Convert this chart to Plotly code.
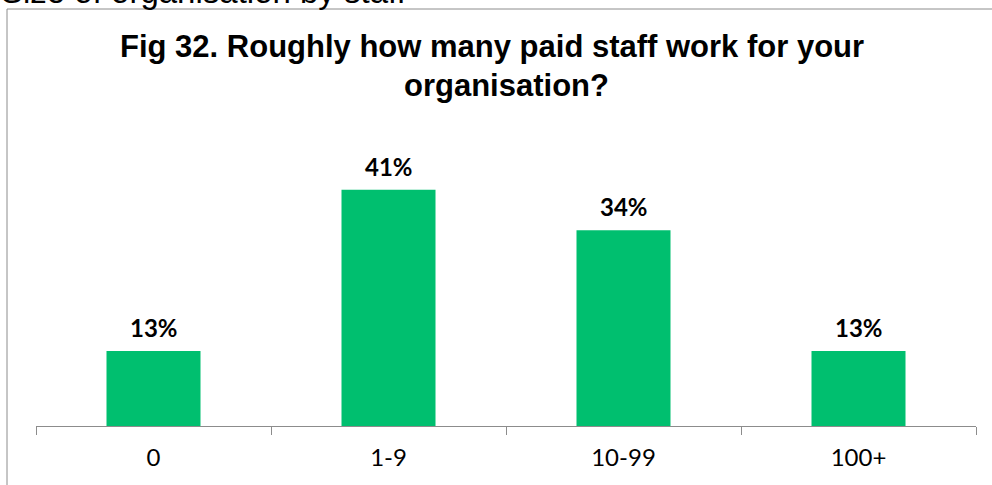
import plotly.graph_objects as go

categories = ["0", "1-9", "10-99", "100+"]
values = [13, 41, 34, 13]
labels = ["13%", "41%", "34%", "13%"]

title_lines = ["Fig 32. Roughly how many paid staff work for your", "organisation?"]
header_text = "Size of organisation by staff"

# plot area geometry (px)
W, H = 992, 485
L, R, T, B = 36, 16, 138, 59
PW, PH = W - L - R, H - T - B
YMAX = 50


def px_x(px):
    return (px - L) / PW


def px_y(py):
    return (H - B - py) / PH


fig = go.Figure()
fig.add_trace(go.Bar(
    x=categories, y=values, width=0.4,
    marker=dict(color="#00BF6F", line=dict(width=0)),
    hoverinfo="skip",
))

for c, v, t in zip(categories, values, labels):
    fig.add_annotation(
        x=c, y=v, text="<b>" + t + "</b>", showarrow=False,
        yanchor="bottom", yshift=7,
        font=dict(family="Lato", size=24, color="#000000"),
    )

fig.update_layout(
    width=W, height=H,
    margin=dict(l=L, r=R, t=T, b=B),
    paper_bgcolor="white", plot_bgcolor="white",
    showlegend=False,
    xaxis=dict(
        showline=True, linecolor="#8C8C8C", linewidth=1,
        ticks="outside", ticklen=8, tickcolor="#8C8C8C", tickson="boundaries",
        tickfont=dict(family="Lato", size=24, color="#000000"),
        ticklabelstandoff=10,
        showgrid=False, fixedrange=True,
    ),
    yaxis=dict(range=[0, YMAX], visible=False, showgrid=False, fixedrange=True),
)

# frame (left and top edges)
fig.add_shape(type="line", xref="paper", yref="paper",
              x0=px_x(7), x1=px_x(7), y0=px_y(9), y1=px_y(H + 5),
              line=dict(color="#8C8C8C", width=1))
fig.add_shape(type="line", xref="paper", yref="paper",
              x0=px_x(7), x1=px_x(W + 5), y0=px_y(9), y1=px_y(9),
              line=dict(color="#8C8C8C", width=1))

for line_text, cx, cy in zip(title_lines, [492, 506], [47, 85]):
    fig.add_annotation(
        text="<b>" + line_text + "</b>", xref="paper", yref="paper",
        x=px_x(cx), y=px_y(cy), xanchor="center", yanchor="middle", showarrow=False,
        font=dict(family="Liberation Sans", size=31, color="#000000"),
    )
fig.add_annotation(
    text=header_text, xref="paper", yref="paper",
    x=px_x(-1), y=px_y(12), xanchor="left", yanchor="bottom", showarrow=False,
    font=dict(family="Liberation Sans", size=33, color="#000000"),
)

fig.write_html("out.html", config={"displayModeBar": False},
               post_script="document.body.style.margin='0';document.body.style.overflow='hidden';")
